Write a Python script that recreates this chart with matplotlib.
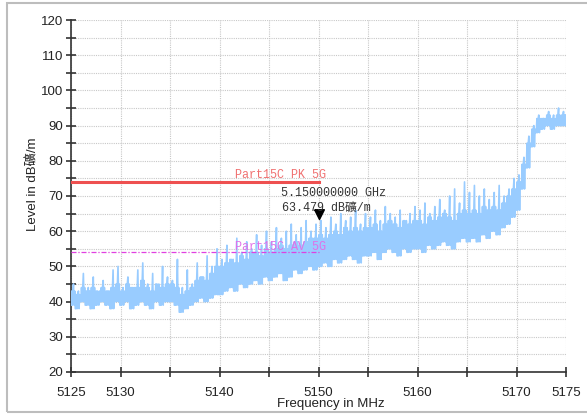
import numpy as np
import matplotlib
matplotlib.use("Agg")
import matplotlib.pyplot as plt
from matplotlib.patches import Rectangle
from matplotlib.ticker import MultipleLocator

# ---- data ----
f_start = 5125.0
bin_width = 0.5  # MHz per bin
lo = [39, 38, 40, 39, 38, 39, 40, 39, 38, 40,
      39, 40, 38, 39, 40, 39, 38, 40, 39, 40,
      40, 39, 37, 38, 39, 40, 41, 40, 41, 42,
      42, 43, 44, 43, 45, 44, 45, 46, 45, 47,
      46, 47, 48, 46, 47, 49, 48, 49, 50, 49,
      50, 51, 50, 52, 51, 52, 53, 52, 51, 53,
      53, 54, 52, 54, 55, 54, 53, 55, 54, 55,
      55, 54, 56, 55, 56, 57, 56, 55, 57, 58,
      57, 58, 57, 59, 58, 60, 59, 61, 62, 64,
      66, 72, 78, 84, 88, 89, 90, 89, 90, 90]
mid = [43, 42, 44, 43, 44, 43, 44, 43, 44, 45,
       43, 45, 44, 44, 46, 44, 43, 45, 44, 45,
       45, 44, 42, 43, 44, 46, 47, 46, 48, 50,
       50, 51, 52, 51, 53, 52, 54, 54, 53, 55,
       54, 55, 56, 55, 56, 57, 56, 57, 58, 58,
       59, 58, 59, 60, 59, 61, 60, 61, 60, 61,
       61, 62, 60, 62, 63, 62, 61, 63, 62, 63,
       63, 62, 64, 63, 64, 65, 64, 63, 65, 66,
       65, 66, 65, 67, 66, 67, 66, 68, 70, 72,
       74, 79, 85, 89, 92, 92, 93, 92, 93, 93]
hi = [45, 43, 48, 44, 47, 42, 46, 43, 49, 50,
      44, 47, 43, 49, 51, 45, 48, 44, 50, 47,
      46, 52, 44, 49, 45, 51, 47, 53, 50, 55,
      52, 56, 50, 58, 54, 57, 55, 59, 56, 60,
      57, 61, 58, 60, 62, 59, 61, 63, 60, 62,
      63, 61, 64, 62, 65, 63, 64, 66, 62, 65,
      64, 66, 63, 67, 65, 64, 66, 62, 65, 67,
      66, 68, 65, 67, 69, 66, 70, 72, 68, 74,
      71, 73, 70, 72, 69, 71, 73, 70, 72, 75,
      76, 81, 87, 90, 93, 92, 94, 93, 95, 94]

limit_pk = 74.0
limit_av = 54.0
limit_end = 5150.0
marker_f = 5150.0
marker_level = 63.479

x_tick_labels = {5125: "5125", 5130: "5130", 5140: "5140", 5150: "5150",
                 5160: "5160", 5170: "5170", 5175: "5175"}

# ---- build trace polyline from the per-bin readings ----
xs, ys = [], []
for i in range(len(lo)):
    f0 = f_start + i * bin_width
    nxt_lo = lo[i + 1] if i + 1 < len(lo) else lo[i]
    pts = [lo[i], mid[i], lo[i], mid[i], hi[i], lo[i], mid[i], nxt_lo]
    for k, v in enumerate(pts):
        xs.append(f0 + k * bin_width / len(pts))
        ys.append(v)
xs.append(5175.0)
ys.append(mid[-1])

sans = ['Liberation Sans', 'Noto Sans CJK TC', 'DejaVu Sans']
mono = ['Liberation Mono', 'Noto Sans CJK TC', 'DejaVu Sans Mono']

fig = plt.figure(figsize=(5.87, 4.16), dpi=100)
fig.patch.set_facecolor('white')
fig.patches.append(Rectangle((7 / 587, 4 / 416), 1.0, 409 / 416, transform=fig.transFigure,
                             fill=False, edgecolor='#bdbdbd', linewidth=1.5, zorder=0))

ax = fig.add_axes([71 / 587, 1 - 372 / 416, (566 - 71) / 587, (372 - 20) / 416])
ax.set_xlim(5125, 5175)
ax.set_ylim(20, 120)

ax.plot(xs, ys, color='#99ccff', linewidth=1.2, zorder=3)

ax.plot([5125, limit_end], [limit_pk, limit_pk], color='#ee5050', linewidth=2.2, zorder=4)
ax.plot([5125, limit_end], [limit_av, limit_av], color='#e040e0', linewidth=0.9,
        linestyle=(0, (4, 1.5, 1, 1.5)), zorder=4)

ax.text(5146.2, limit_pk + 0.4, "Part15C PK 5G", color='#f07070', fontsize=8.5,
        family=mono, ha='center', va='bottom', zorder=5)
ax.text(5146.2, limit_av - 0.3, "Part15C AV 5G", color='#e070e8', fontsize=8.5,
        family=mono, ha='center', va='bottom', zorder=5)

tri = [(-1, 2), (1, 2), (0, 0), (-1, 2)]
ax.plot([marker_f], [marker_level], marker=tri, markersize=14, color='black',
        linestyle='none', zorder=6)
ax.text(5151.5, 70.8, "5.150000000 GHz", color='#333333', fontsize=8.5,
        family=mono, ha='center', va='center', zorder=6)
ax.text(5150.8, 66.5, "63.479 dB礦/m", color='#333333', fontsize=8.5,
        family=mono, ha='center', va='center', zorder=6)

ax.yaxis.set_major_locator(MultipleLocator(10))
ax.yaxis.set_minor_locator(MultipleLocator(5))
ax.set_xticks(np.arange(5125, 5176, 5))
ax.set_xticklabels([x_tick_labels.get(int(v), "") for v in np.arange(5125, 5176, 5)])
ax.grid(True, which='both', color='#c8c8c8', linestyle=(0, (1, 1)), linewidth=0.8, zorder=1)
ax.set_axisbelow(True)

for s in ['top', 'right']:
    ax.spines[s].set_visible(False)
for s in ['left', 'bottom']:
    ax.spines[s].set_color('#333333')
    ax.spines[s].set_linewidth(1.2)

ax.tick_params(axis='both', which='both', direction='inout', length=7, width=1.2,
               color='#333333', labelcolor='#222222', labelsize=9.5)
ax.tick_params(axis='x', pad=7)
ax.tick_params(axis='y', pad=2)
for lab in ax.get_xticklabels() + ax.get_yticklabels():
    lab.set_family(sans)

fig.text(331 / 587, 1 - 404 / 416, "Frequency in MHz", fontsize=9.5, family=sans,
         ha='center', va='center', color='#222222')
fig.text(33 / 587, 1 - 184 / 416, "Level in dB礦/m", fontsize=9.5, family=sans,
         ha='center', va='center', rotation=90, color='#222222')

fig.savefig('out.png', dpi=100, facecolor='white')
